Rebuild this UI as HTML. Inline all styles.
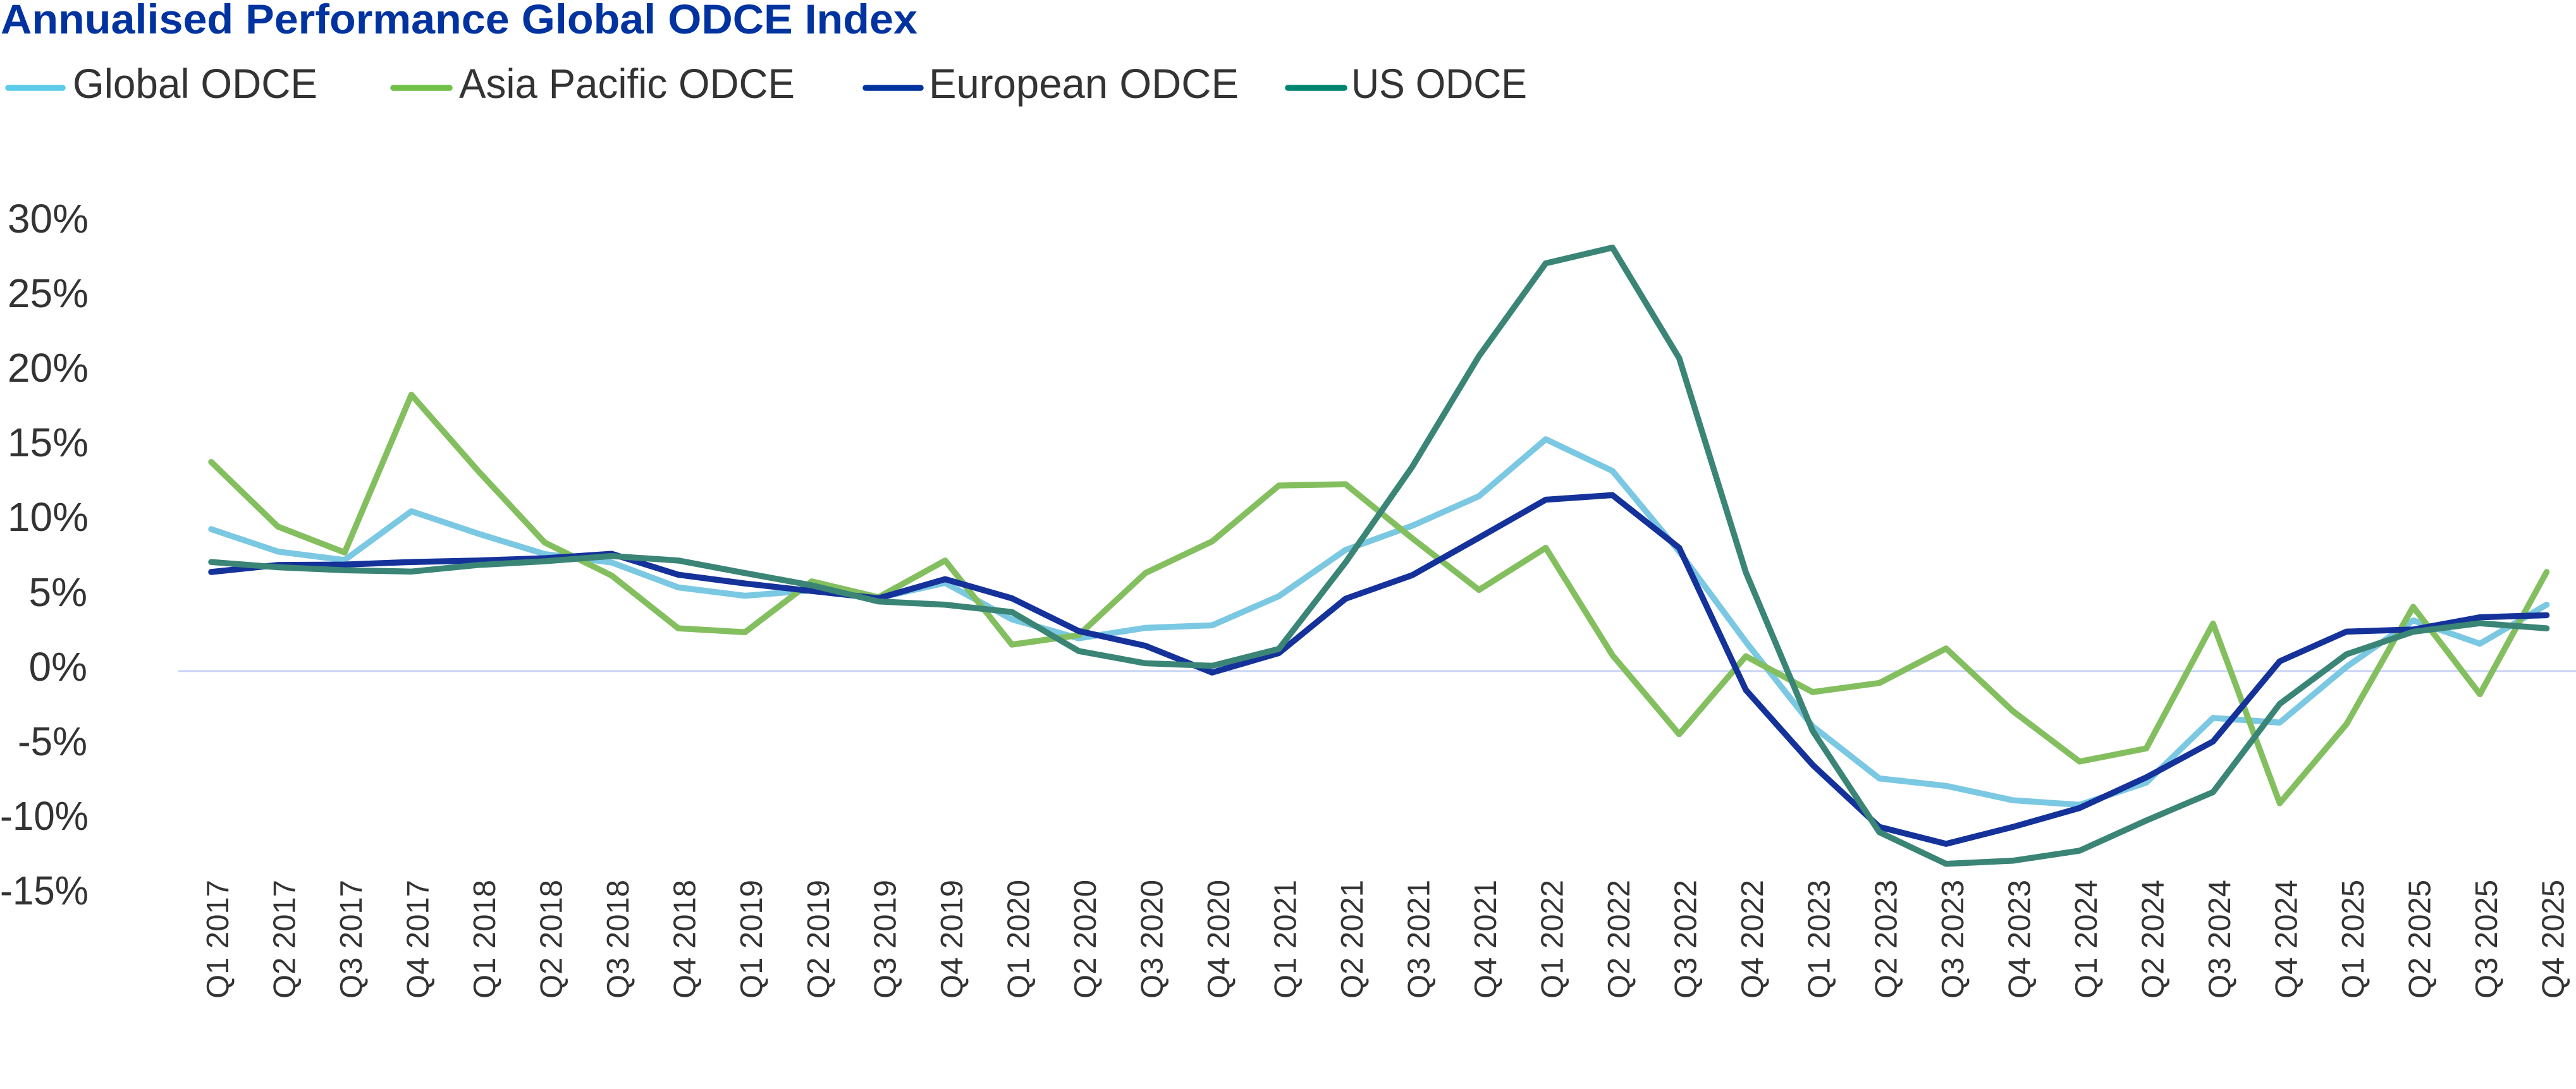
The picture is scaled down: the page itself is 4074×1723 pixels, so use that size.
<!DOCTYPE html>
<html>
<head>
<meta charset="utf-8">
<style>
  html, body { margin:0; padding:0; background:#ffffff; }
  body { width:4074px; height:1723px; overflow:hidden; }
  svg { display:block; }
  .ax { font-family:"Liberation Sans", Arial, sans-serif; fill:#333333; }
</style>
</head>
<body>
<svg width="4074" height="1723" viewBox="0 0 4074 1723" xmlns="http://www.w3.org/2000/svg">
  <rect x="0" y="0" width="4074" height="1723" fill="#ffffff"/>

  <!-- Title -->
  <text x="1" y="53" font-family="Liberation Sans, Arial, sans-serif" font-weight="bold" font-size="66" fill="#0033A0" textLength="1450" lengthAdjust="spacingAndGlyphs">Annualised Performance Global ODCE Index</text>

  <!-- Legend -->
  <g stroke-linecap="round" stroke-width="9.5">
    <line x1="13" y1="139" x2="99" y2="139" stroke="#5CCBEA"/>
    <line x1="622" y1="139" x2="711" y2="139" stroke="#70C04A"/>
    <line x1="1369" y1="139" x2="1456" y2="139" stroke="#0033A0"/>
    <line x1="2037" y1="139" x2="2126" y2="139" stroke="#008571"/>
  </g>
  <g class="ax" font-size="66">
    <text x="115" y="155" textLength="387" lengthAdjust="spacingAndGlyphs">Global ODCE</text>
    <text x="726" y="155" textLength="531" lengthAdjust="spacingAndGlyphs">Asia Pacific ODCE</text>
    <text x="1469" y="155" textLength="490" lengthAdjust="spacingAndGlyphs">European ODCE</text>
    <text x="2137" y="155" textLength="278" lengthAdjust="spacingAndGlyphs">US ODCE</text>
  </g>

  <!-- Y axis labels -->
  <g class="ax" font-size="64" text-anchor="end">
    <text x="140" y="368">30%</text>
    <text x="140" y="486">25%</text>
    <text x="140" y="604">20%</text>
    <text x="140" y="722">15%</text>
    <text x="140" y="840">10%</text>
    <text x="138" y="959">5%</text>
    <text x="138" y="1077">0%</text>
    <text x="138" y="1195" textLength="110" lengthAdjust="spacingAndGlyphs">-5%</text>
    <text x="140" y="1313" textLength="140" lengthAdjust="spacingAndGlyphs">-10%</text>
    <text x="140" y="1431" textLength="140" lengthAdjust="spacingAndGlyphs">-15%</text>
  </g>

  <!-- Zero line -->
  <line x1="282" y1="1061.7" x2="4074" y2="1061.7" stroke="#CBD5F5" stroke-width="3"/>

  <!-- Series -->
  <g transform="translate(334,1061.7) scale(105.53,-23.63)" fill="none" stroke-linecap="round" stroke-linejoin="round">
    <polyline vector-effect="non-scaling-stroke" stroke="#7BC8E3" stroke-width="9.5"
      points="0,9.5 1,8.0 2,7.43 3,10.7 4,9.2 5,7.83 6,7.27 7,5.6 8,5.04 9,5.4 10,4.9 11,5.9 12,3.46 13,2.19 14,2.89 15,3.06 16,5.01 17,8.11 18,9.73 19,11.71 20,15.52 21,13.4 22,8.0 23,1.95 24,-3.7 25,-7.19 26,-7.69 27,-8.65 28,-8.96 29,-7.47 30,-3.14 31,-3.45 32,0.28 33,3.39 34,1.83 35,4.44"/>
    <polyline vector-effect="non-scaling-stroke" stroke="#84BF5F" stroke-width="9.5"
      points="0,14.0 1,9.67 2,7.94 3,18.5 4,13.4 5,8.6 6,6.4 7,2.86 8,2.6 9,6.0 10,4.94 11,7.4 12,1.77 13,2.4 14,6.56 15,8.68 16,12.42 17,12.51 18,8.89 19,5.43 20,8.25 21,1.06 22,-4.23 23,0.99 24,-1.41 25,-0.8 26,1.51 27,-2.68 28,-6.06 29,-5.18 30,3.18 31,-8.85 32,-3.56 33,4.3 34,-1.55 35,6.63"/>
    <polyline vector-effect="non-scaling-stroke" stroke="#14329A" stroke-width="9.5"
      points="0,6.63 1,7.1 2,7.13 3,7.3 4,7.4 5,7.55 6,7.85 7,6.45 8,5.86 9,5.36 10,4.87 11,6.15 12,4.87 13,2.68 14,1.69 15,-0.1 16,1.2 17,4.84 18,6.42 19,8.93 20,11.47 21,11.78 22,8.25 23,-1.27 24,-6.28 25,-10.44 26,-11.57 27,-10.44 28,-9.17 29,-7.12 30,-4.72 31,0.65 32,2.64 33,2.78 34,3.6 35,3.74"/>
    <polyline vector-effect="non-scaling-stroke" stroke="#3A8575" stroke-width="9.5"
      points="0,7.3 1,6.95 2,6.75 3,6.66 4,7.1 5,7.35 6,7.7 7,7.4 8,6.56 9,5.74 10,4.66 11,4.44 12,3.95 13,1.34 14,0.52 15,0.35 16,1.48 17,7.27 18,13.68 19,21.09 20,27.3 21,28.35 22,20.95 23,6.6 24,-4.0 25,-10.79 26,-12.91 27,-12.7 28,-12.03 29,-10.01 30,-8.11 31,-2.2 32,1.12 33,2.63 34,3.2 35,2.86"/>
  </g>

  <!-- X axis labels -->
  <g class="ax" font-size="49" text-anchor="end">
    <text transform="translate(361.0,1392) rotate(-90)" textLength="188" lengthAdjust="spacingAndGlyphs">Q1 2017</text>
    <text transform="translate(466.5,1392) rotate(-90)" textLength="188" lengthAdjust="spacingAndGlyphs">Q2 2017</text>
    <text transform="translate(572.1,1392) rotate(-90)" textLength="188" lengthAdjust="spacingAndGlyphs">Q3 2017</text>
    <text transform="translate(677.6,1392) rotate(-90)" textLength="188" lengthAdjust="spacingAndGlyphs">Q4 2017</text>
    <text transform="translate(783.1,1392) rotate(-90)" textLength="188" lengthAdjust="spacingAndGlyphs">Q1 2018</text>
    <text transform="translate(888.7,1392) rotate(-90)" textLength="188" lengthAdjust="spacingAndGlyphs">Q2 2018</text>
    <text transform="translate(994.2,1392) rotate(-90)" textLength="188" lengthAdjust="spacingAndGlyphs">Q3 2018</text>
    <text transform="translate(1099.7,1392) rotate(-90)" textLength="188" lengthAdjust="spacingAndGlyphs">Q4 2018</text>
    <text transform="translate(1205.2,1392) rotate(-90)" textLength="188" lengthAdjust="spacingAndGlyphs">Q1 2019</text>
    <text transform="translate(1310.8,1392) rotate(-90)" textLength="188" lengthAdjust="spacingAndGlyphs">Q2 2019</text>
    <text transform="translate(1416.3,1392) rotate(-90)" textLength="188" lengthAdjust="spacingAndGlyphs">Q3 2019</text>
    <text transform="translate(1521.8,1392) rotate(-90)" textLength="188" lengthAdjust="spacingAndGlyphs">Q4 2019</text>
    <text transform="translate(1627.4,1392) rotate(-90)" textLength="188" lengthAdjust="spacingAndGlyphs">Q1 2020</text>
    <text transform="translate(1732.9,1392) rotate(-90)" textLength="188" lengthAdjust="spacingAndGlyphs">Q2 2020</text>
    <text transform="translate(1838.4,1392) rotate(-90)" textLength="188" lengthAdjust="spacingAndGlyphs">Q3 2020</text>
    <text transform="translate(1943.9,1392) rotate(-90)" textLength="188" lengthAdjust="spacingAndGlyphs">Q4 2020</text>
    <text transform="translate(2049.5,1392) rotate(-90)" textLength="188" lengthAdjust="spacingAndGlyphs">Q1 2021</text>
    <text transform="translate(2155.0,1392) rotate(-90)" textLength="188" lengthAdjust="spacingAndGlyphs">Q2 2021</text>
    <text transform="translate(2260.5,1392) rotate(-90)" textLength="188" lengthAdjust="spacingAndGlyphs">Q3 2021</text>
    <text transform="translate(2366.1,1392) rotate(-90)" textLength="188" lengthAdjust="spacingAndGlyphs">Q4 2021</text>
    <text transform="translate(2471.6,1392) rotate(-90)" textLength="188" lengthAdjust="spacingAndGlyphs">Q1 2022</text>
    <text transform="translate(2577.1,1392) rotate(-90)" textLength="188" lengthAdjust="spacingAndGlyphs">Q2 2022</text>
    <text transform="translate(2682.7,1392) rotate(-90)" textLength="188" lengthAdjust="spacingAndGlyphs">Q3 2022</text>
    <text transform="translate(2788.2,1392) rotate(-90)" textLength="188" lengthAdjust="spacingAndGlyphs">Q4 2022</text>
    <text transform="translate(2893.7,1392) rotate(-90)" textLength="188" lengthAdjust="spacingAndGlyphs">Q1 2023</text>
    <text transform="translate(2999.3,1392) rotate(-90)" textLength="188" lengthAdjust="spacingAndGlyphs">Q2 2023</text>
    <text transform="translate(3104.8,1392) rotate(-90)" textLength="188" lengthAdjust="spacingAndGlyphs">Q3 2023</text>
    <text transform="translate(3210.3,1392) rotate(-90)" textLength="188" lengthAdjust="spacingAndGlyphs">Q4 2023</text>
    <text transform="translate(3315.8,1392) rotate(-90)" textLength="188" lengthAdjust="spacingAndGlyphs">Q1 2024</text>
    <text transform="translate(3421.4,1392) rotate(-90)" textLength="188" lengthAdjust="spacingAndGlyphs">Q2 2024</text>
    <text transform="translate(3526.9,1392) rotate(-90)" textLength="188" lengthAdjust="spacingAndGlyphs">Q3 2024</text>
    <text transform="translate(3632.4,1392) rotate(-90)" textLength="188" lengthAdjust="spacingAndGlyphs">Q4 2024</text>
    <text transform="translate(3738.0,1392) rotate(-90)" textLength="188" lengthAdjust="spacingAndGlyphs">Q1 2025</text>
    <text transform="translate(3843.5,1392) rotate(-90)" textLength="188" lengthAdjust="spacingAndGlyphs">Q2 2025</text>
    <text transform="translate(3949.0,1392) rotate(-90)" textLength="188" lengthAdjust="spacingAndGlyphs">Q3 2025</text>
    <text transform="translate(4054.6,1392) rotate(-90)" textLength="188" lengthAdjust="spacingAndGlyphs">Q4 2025</text>
  </g>
</svg>
</body>
</html>
